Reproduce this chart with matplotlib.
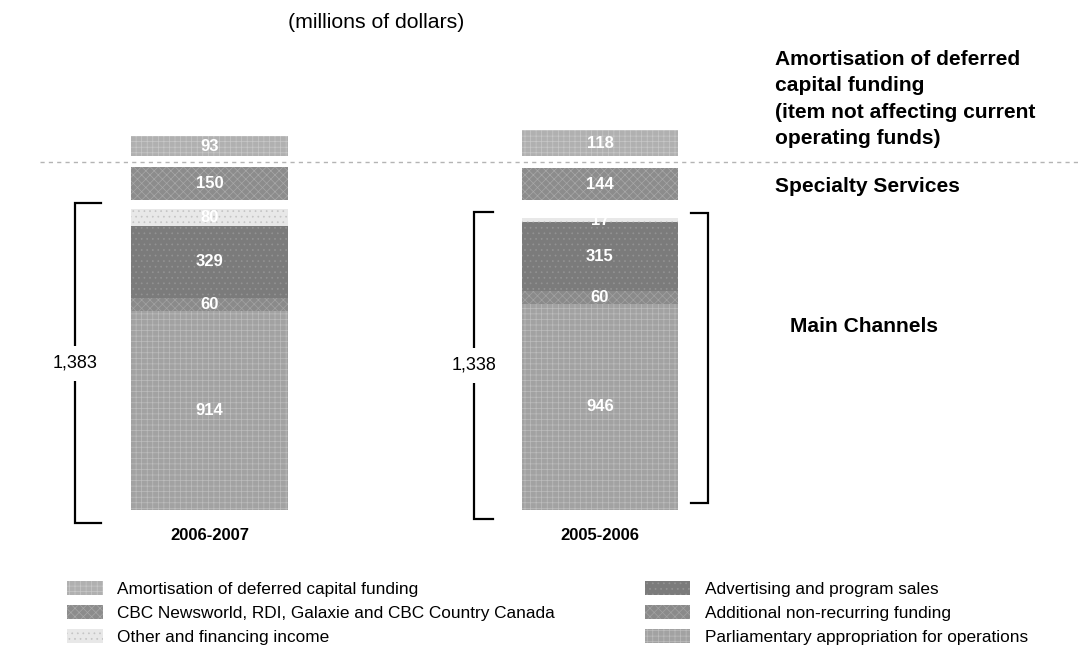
import matplotlib
matplotlib.use("Agg")
import matplotlib.pyplot as plt
from matplotlib.patches import Patch
import numpy as np

plt.rcParams['font.family'] = ['Liberation Sans', 'DejaVu Sans']
plt.rcParams['hatch.linewidth'] = 0.5

# ---------------- data ----------------
years = ["2006-2007", "2005-2006"]
parliamentary = [914, 946]
additional = [60, 60]
advertising = [329, 315]
other_income = [80, 17]
specialty = [150, 144]
amortisation = [93, 118]
main_totals = ["1,383", "1,338"]

legend_left = ["Amortisation of deferred capital funding",
               "CBC Newsworld, RDI, Galaxie and CBC Country Canada",
               "Other and financing income"]
legend_right = ["Advertising and program sales",
                "Additional non-recurring funding",
                "Parliamentary appropriation for operations"]

# ---------------- style ----------------
c_parl, h_parl, t_parl = "#a2a2a2", "#bdbdbd", "+++"
c_add, h_add, t_add = "#8a8a8a", "#a2a2a2", "xxxx"
c_adv, h_adv, t_adv = "#7b7b7b", "#939393", "..."
c_oth, h_oth, t_oth = "#e8e8e8", "#c4c4c4", "..."
c_spc, h_spc, t_spc = "#8c8c8c", "#a8a8a8", "xxxx"
c_amo, h_amo, t_amo = "#b0b0b0", "#c8c8c8", "+++"

W, H = 1083, 652
fig = plt.figure(figsize=(W / 100, H / 100), dpi=100)
ax = fig.add_axes([0, 0, 1, 1])
ax.axis("off")

# pixel layout -> data limits
base_px = 510.0          # y pixel (from top) of the bars' base
scale = 0.218            # px per million
x0_px, dx_px = 209.5, 390.5
ax.set_xlim(-x0_px / dx_px, (W - x0_px) / dx_px)
ax.set_ylim(-(H - base_px) / scale, base_px / scale)

GAP1 = 40   # gap between main channels and specialty group
GAP2 = 50   # gap between specialty and amortisation group

x = np.arange(len(years))
bw = 0.402

def seg(bottom, vals, fc, hc, hatch):
    return ax.bar(x, vals, bw, bottom=bottom, color=fc, edgecolor=hc,
                  hatch=hatch, linewidth=0, zorder=2)

b = np.zeros(len(years))
segments = []
for vals, fc, hc, hatch in [(parliamentary, c_parl, h_parl, t_parl),
                            (additional, c_add, h_add, t_add),
                            (advertising, c_adv, h_adv, t_adv),
                            (other_income, c_oth, h_oth, t_oth)]:
    bars = seg(b, vals, fc, hc, hatch)
    segments.append((bars, vals, b.copy()))
    b = b + np.array(vals)
main_top = b.copy()

spec_base = main_top.max() + GAP1
bars = seg(spec_base, specialty, c_spc, h_spc, t_spc)
segments.append((bars, specialty, np.full(len(years), spec_base)))
spec_top = spec_base + np.array(specialty)

amo_base = spec_top.max() + GAP2
bars = seg(amo_base, amortisation, c_amo, h_amo, t_amo)
segments.append((bars, amortisation, np.full(len(years), amo_base)))

# value labels
for bars, vals, bottoms in segments:
    for xi, v, bt in zip(x, vals, bottoms):
        ax.text(xi, bt + v / 2, f"{v:,}", ha="center", va="center",
                color="white", fontsize=12, fontweight="bold", zorder=3)

# dashed separator
ax.plot([(40 - x0_px) / dx_px, (1080 - x0_px) / dx_px],
        [amo_base - GAP2 / 2] * 2, color="#b4b4b4", lw=1.0,
        dashes=(3, 3), zorder=1)

# brackets
def bracket(xc, y0, y1, tick, label=None):
    ax.plot([xc + tick, xc, xc, xc + tick], [y0, y0, y1, y1],
            color="black", lw=1.6, zorder=2, solid_joinstyle="miter")
    if label is not None:
        ax.text(xc, (y0 + y1) / 2, label, ha="center", va="center",
                fontsize=13, zorder=3,
                bbox=dict(boxstyle="square,pad=0.5", fc="white", ec="none"))

bracket(x[0] - 0.344, -60, main_top[0] + 25, 0.067, main_totals[0])
bracket(x[1] - 0.322, -40, main_top[1] + 28, 0.047, main_totals[1])
bracket(x[1] + 0.277, 30, main_top[1] + 25, -0.045)

# category labels
for xi, yr in zip(x, years):
    ax.text(xi, -(536 - base_px) / scale, yr, ha="center", va="center",
            fontsize=12, fontweight="bold")

# titles / right-hand labels (figure coords)
fig.text(288 / W, 1 - 22 / H, "(millions of dollars)", ha="left",
         va="center", fontsize=15.3)
fig.text(775 / W, 1 - 99 / H,
         "Amortisation of deferred\ncapital funding\n(item not affecting current\noperating funds)",
         ha="left", va="center", fontsize=15.1, fontweight="bold",
         linespacing=1.51)
fig.text(775 / W, 1 - 186 / H, "Specialty Services", ha="left", va="center",
         fontsize=15.1, fontweight="bold")
fig.text(790 / W, 1 - 326 / H, "Main Channels", ha="left", va="center",
         fontsize=15.1, fontweight="bold")

# legends
def handles(specs):
    return [Patch(facecolor=fc, edgecolor=hc, hatch=ht, linewidth=0)
            for fc, hc, ht in specs]

lg1 = fig.legend(handles([(c_amo, h_amo, t_amo), (c_spc, h_spc, t_spc),
                          (c_oth, h_oth, t_oth)]), legend_left,
                 loc="upper left", bbox_to_anchor=(67 / W, 1 - 581 / H),
                 frameon=False, fontsize=12.4, handlelength=2.1,
                 handleheight=0.9, handletextpad=0.8, labelspacing=0.46,
                 borderaxespad=0, borderpad=0)
lg2 = fig.legend(handles([(c_adv, h_adv, t_adv), (c_add, h_add, t_add),
                          (c_parl, h_parl, t_parl)]), legend_right,
                 loc="upper left", bbox_to_anchor=(645 / W, 1 - 581 / H),
                 frameon=False, fontsize=12.4, handlelength=2.6,
                 handleheight=0.9, handletextpad=0.87, labelspacing=0.46,
                 borderaxespad=0, borderpad=0)

fig.savefig("out.png", dpi=100, facecolor="white")
